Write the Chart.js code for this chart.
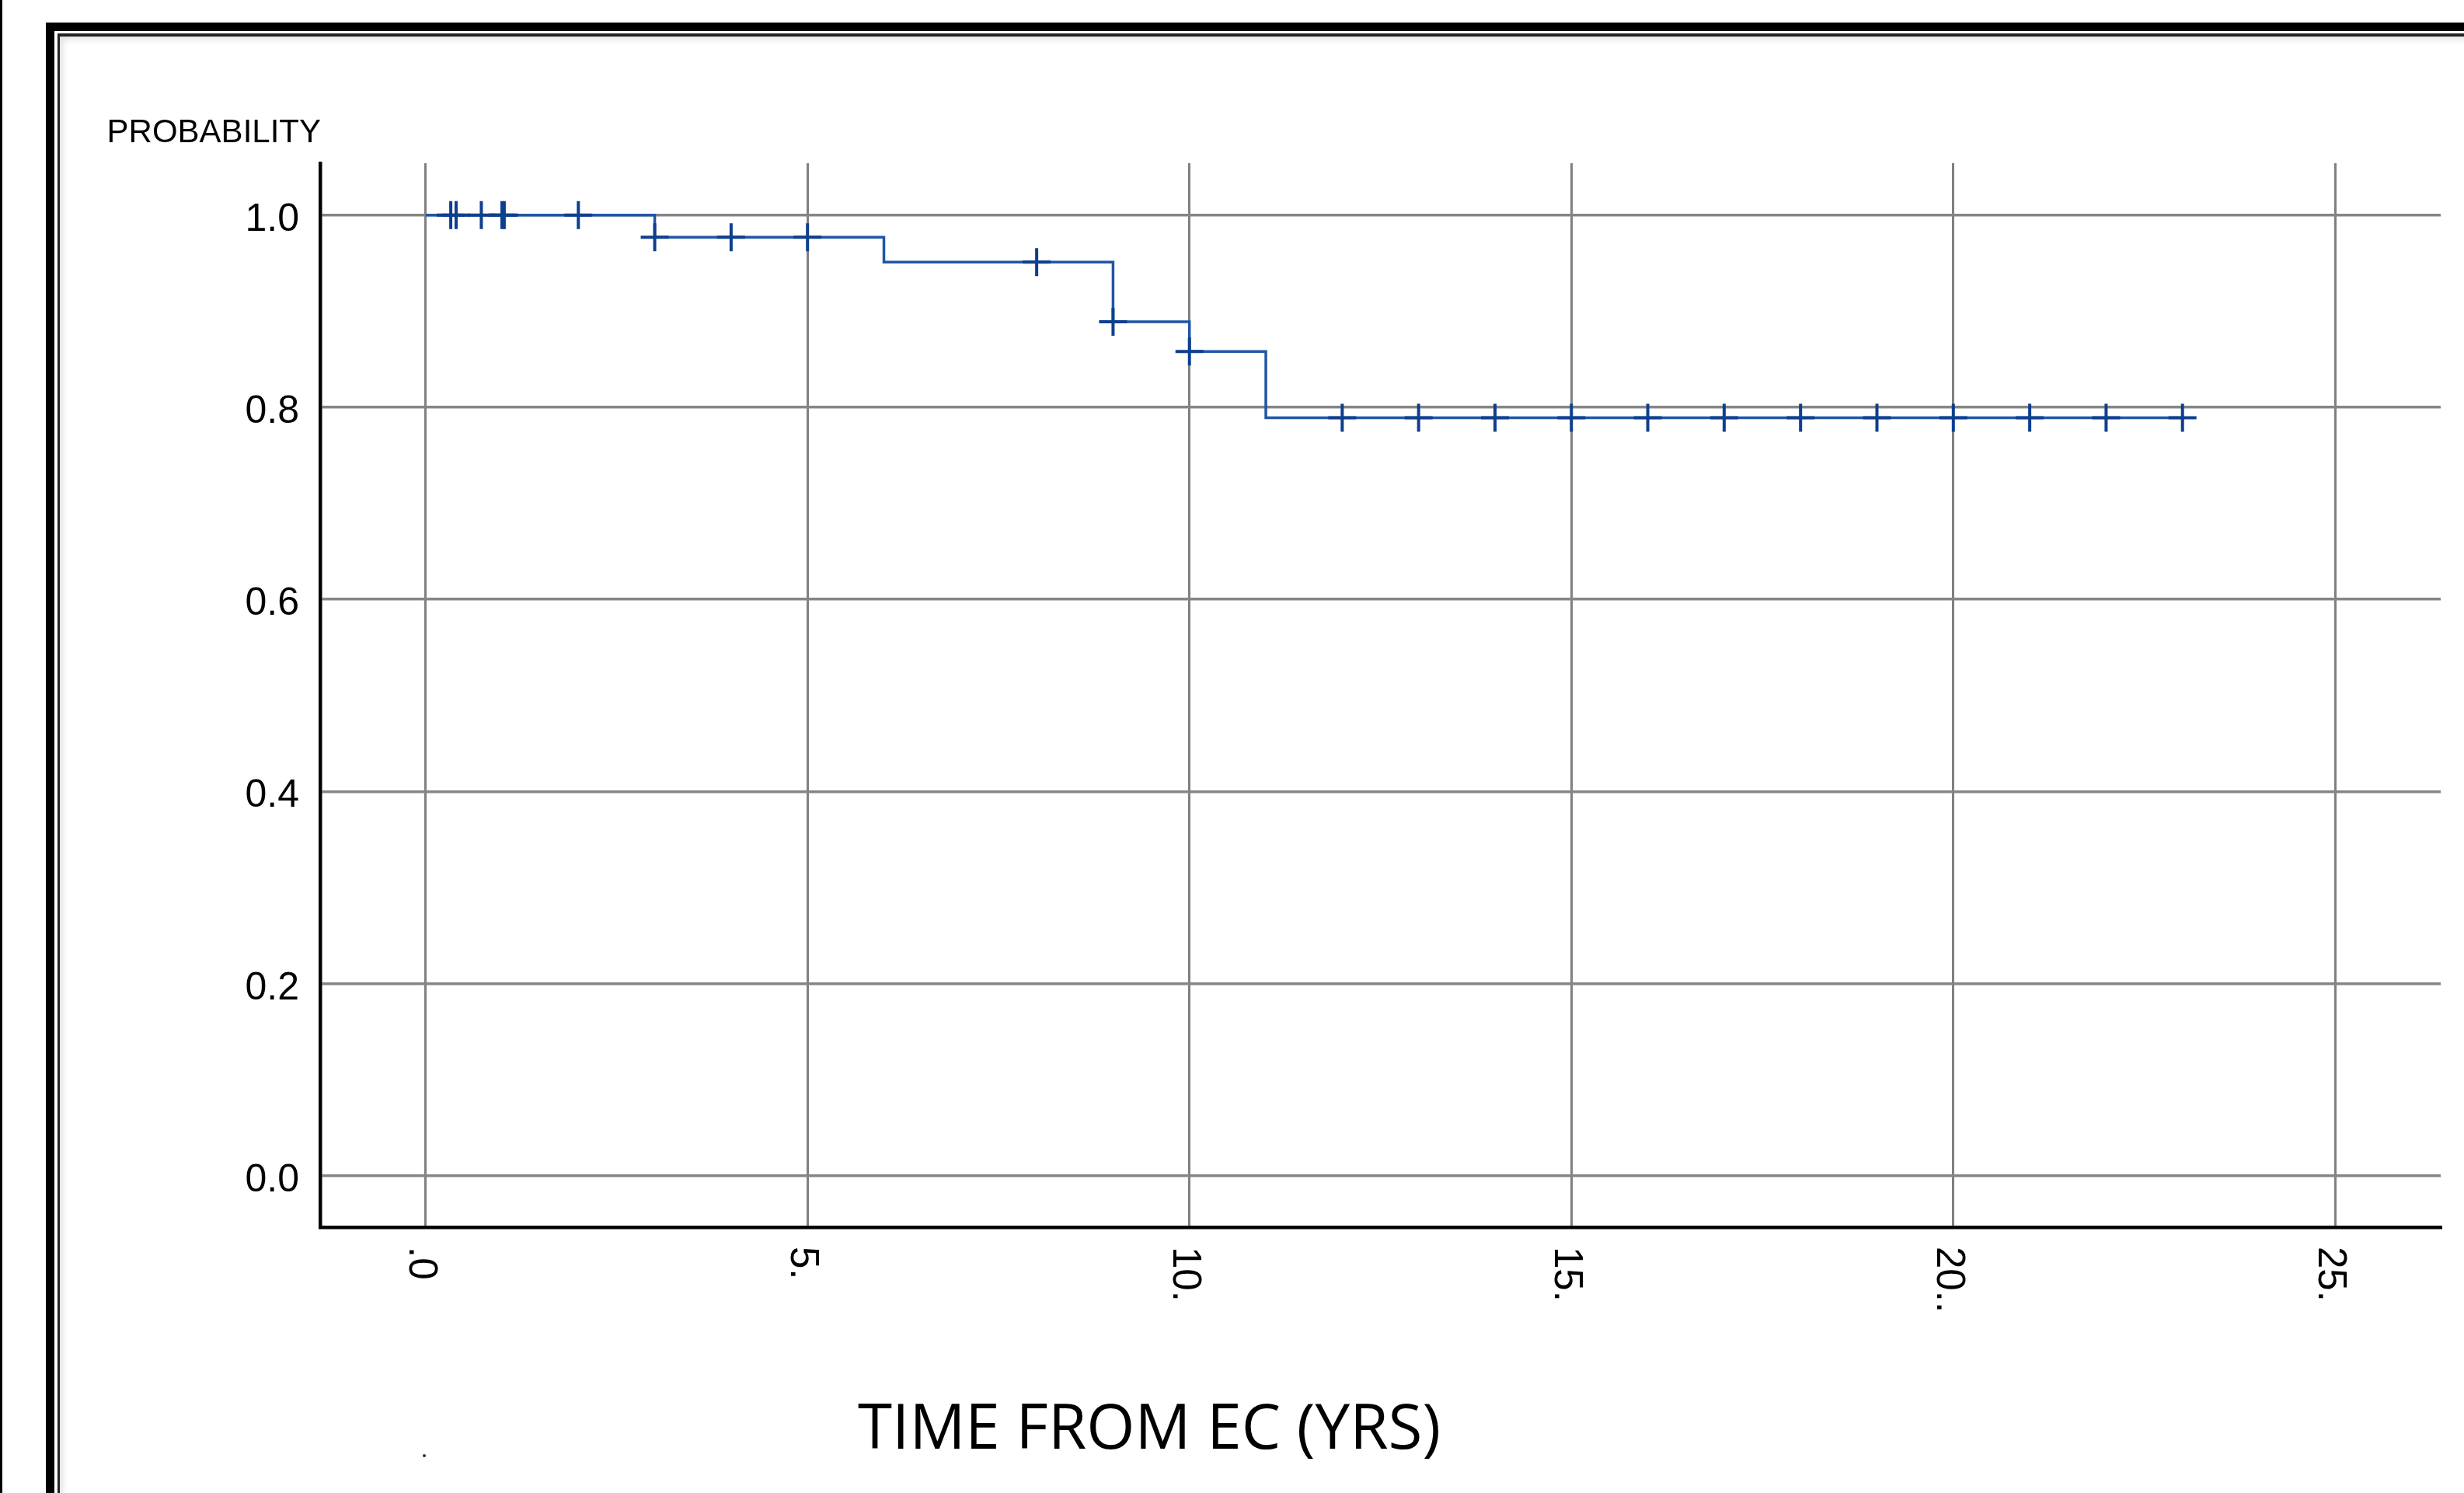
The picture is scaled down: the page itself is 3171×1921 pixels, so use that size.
<!DOCTYPE html>
<html>
<head>
<meta charset="utf-8">
<script src="https://cdn.jsdelivr.net/npm/chart.js@4.4.1/dist/chart.umd.min.js"></script>
<style>
  html, body { margin: 0; padding: 0; background: #fff; overflow: hidden; width: 3171px; height: 1921px; }
  .abs { position: absolute; }
  #edge { left: 0; top: 0; width: 3px; height: 1921px; background: #000; }
  #outer { left: 59px; top: 29px; width: 3200px; height: 2000px; border-left: 11px solid #000; border-top: 11px solid #000; }
  #inner { left: 74px; top: 43px; width: 3200px; height: 2000px; border-left: 3px solid #222; border-top: 4px solid #222;
           box-shadow: inset 6px 6px 8px -3px rgba(0,0,0,0.14); }
  #dot { left: 544px; top: 1871px; width: 4px; height: 4px; border-radius: 2px; background: #333; }
  #c { position: absolute; left: 0; top: 0; }
</style>
</head>
<body>
<div id="edge" class="abs"></div>
<div id="outer" class="abs"></div>
<div id="inner" class="abs"></div>
<div id="dot" class="abs"></div>
<canvas id="c" width="3171" height="1921"></canvas>
<script>
// ---- Data ----
const kmTimes    = [0, 3, 6, 9, 10, 11, 23];
const kmSurvival = [1.0, 0.977, 0.951, 0.889, 0.858, 0.789, 0.789];

const censorTimes    = [0.33, 0.40, 0.73, 1.0, 1.03, 2, 3, 4, 5, 8, 9, 10, 12, 13, 14, 15, 16, 17, 18, 19, 20, 21, 22, 23];
const censorSurvival = [1.0, 1.0, 1.0, 1.0, 1.0, 1.0, 0.977, 0.977, 0.977, 0.951, 0.889, 0.858,
                        0.789, 0.789, 0.789, 0.789, 0.789, 0.789, 0.789, 0.789, 0.789, 0.789, 0.789, 0.789];

const yTicks      = [0, 0.2, 0.4, 0.6, 0.8, 1.0];
const yTickLabels = ['0.0', '0.2', '0.4', '0.6', '0.8', '1.0'];
const xTicks      = [0, 5, 10, 15, 20, 25];
const xTickLabels = ['.0', '5.', '10.', '15.', '20..', '25.'];

const yAxisTitle = 'PROBABILITY';
const xAxisTitle = 'TIME FROM EC (YRS)';

// ---- Build chart ----
const kmData = kmTimes.map((t, i) => ({ x: t, y: kmSurvival[i] }));
const censorData = censorTimes.map((t, i) => ({ x: t, y: censorSurvival[i] }));

const textPlugin = {
  id: 'spssText',
  afterDraw(chart) {
    const ctx = chart.ctx;
    const area = chart.chartArea;
    const xs = chart.scales.x;
    ctx.save();
    // rotated x tick labels (reading top to bottom)
    ctx.fillStyle = '#000';
    ctx.font = '51px "Liberation Sans", Arial, sans-serif';
    ctx.textAlign = 'left';
    ctx.textBaseline = 'middle';
    xTicks.forEach((v, i) => {
      const px = xs.getPixelForValue(v);
      ctx.save();
      ctx.translate(px - 7, area.bottom + 25);
      ctx.rotate(Math.PI / 2);
      ctx.fillText(xTickLabels[i], 0, 0);
      ctx.restore();
    });
    // y axis title (horizontal, top-left)
    ctx.font = '42px "Liberation Sans", Arial, sans-serif';
    ctx.textAlign = 'right';
    ctx.textBaseline = 'alphabetic';
    ctx.fillStyle = '#000';
    ctx.fillText(yAxisTitle, area.left + 1, area.top - 27);
    // x axis title
    ctx.font = '80px "Open Sans", sans-serif';
    ctx.textAlign = 'left';
    ctx.fillStyle = '#000';
    ctx.fillText(xAxisTitle, 1104, 1864);
    ctx.restore();
  }
};

new Chart(document.getElementById('c'), {
  type: 'line',
  data: {
    datasets: [
      {
        type: 'line',
        data: kmData,
        stepped: true,
        borderColor: '#1f56a6',
        borderWidth: 3.5,
        pointRadius: 0,
        fill: false,
        tension: 0,
        order: 2
      },
      {
        type: 'scatter',
        data: censorData,
        showLine: false,
        pointStyle: 'cross',
        pointRadius: 18,
        pointBorderWidth: 4,
        borderColor: '#0d3f8f',
        backgroundColor: '#0d3f8f',
        order: 1
      }
    ]
  },
  options: {
    responsive: false,
    animation: false,
    devicePixelRatio: 1,
    layout: { padding: { left: 0, top: 210, right: 30, bottom: 0 } },
    plugins: { legend: { display: false }, tooltip: { enabled: false }, title: { display: false } },
    scales: {
      x: {
        type: 'linear',
        min: -1.38,
        max: 26.38,
        afterBuildTicks(scale) { scale.ticks = xTicks.map(v => ({ value: v })); },
        afterFit(scale) { scale.height = 342; },
        ticks: { display: false },
        grid: { color: '#808080', lineWidth: 3, drawTicks: false },
        border: { display: true, color: '#000', width: 4.5 }
      },
      y: {
        type: 'linear',
        min: -0.0534,
        max: 1.054,
        afterBuildTicks(scale) { scale.ticks = yTicks.map(v => ({ value: v })); },
        afterFit(scale) { scale.width = 412; },
        ticks: {
          padding: 27,
          labelOffset: 6,
          color: '#000',
          font: { family: '"Liberation Sans", Arial, sans-serif', size: 50 },
          callback(value) {
            const i = yTicks.findIndex(t => Math.abs(t - value) < 1e-9);
            return i >= 0 ? yTickLabels[i] : '';
          }
        },
        grid: { color: '#858585', lineWidth: 3.5, drawTicks: false },
        border: { display: true, color: '#000', width: 4.5 }
      }
    }
  },
  plugins: [textPlugin]
});
</script>
</body>
</html>
